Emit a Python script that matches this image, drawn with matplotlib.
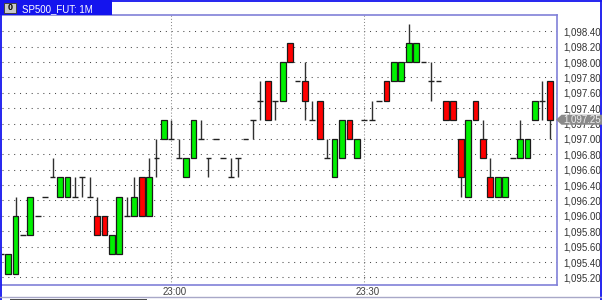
import matplotlib
matplotlib.use("Agg")
import matplotlib.pyplot as plt
import matplotlib.transforms as mtransforms
from matplotlib.patches import Rectangle, Polygon
import numpy as np

plt.rcParams["font.family"] = ["Liberation Sans", "DejaVu Sans"]

W, H = 602, 300
TITLE = "SP500_FUT: 1M"

# one-minute bars, left to right (first one is cut by the left edge)
OPENS = [1095.50, 1095.25, 1095.25, 1095.75, 1095.75, 1096.00, 1096.25, 1096.50,
         1096.25, 1096.25, 1096.25, 1096.50, 1096.25, 1096.00, 1096.00, 1095.50,
         1095.50, 1096.00, 1096.00, 1096.50, 1096.00, 1096.75, 1097.00, 1097.00,
         1096.75, 1096.50, 1096.75, 1097.00, 1096.75, 1097.00, 1096.75, 1096.50,
         1096.75, 1097.00, 1097.25, 1097.50, 1097.75, 1097.50, 1097.50, 1098.25,
         1097.75, 1097.75, 1097.25, 1097.50, 1096.75, 1096.50, 1096.75, 1097.25,
         1096.75, 1097.25, 1097.25, 1097.50, 1097.75, 1097.75, 1097.75, 1098.00,
         1098.00, 1098.00, 1097.75, 1097.75, 1097.50, 1097.50, 1097.00, 1096.25,
         1097.50, 1097.00, 1096.50, 1096.25, 1096.25, 1096.75, 1096.75, 1096.75,
         1097.25, 1097.50, 1097.75]
HIGHS = [1095.50, 1095.50, 1096.25, 1095.75, 1096.25, 1096.00, 1096.25, 1096.75,
         1096.50, 1096.50, 1096.50, 1096.50, 1096.50, 1096.25, 1096.00, 1095.75,
         1096.25, 1096.25, 1096.50, 1096.50, 1096.75, 1097.00, 1097.25, 1097.25,
         1097.00, 1096.75, 1097.25, 1097.25, 1096.75, 1097.00, 1096.75, 1096.75,
         1096.75, 1097.00, 1097.25, 1097.75, 1097.75, 1097.50, 1098.00, 1098.25,
         1097.75, 1098.00, 1097.50, 1097.50, 1097.00, 1097.00, 1097.25, 1097.25,
         1097.00, 1097.25, 1097.50, 1097.50, 1097.75, 1098.00, 1098.00, 1098.50,
         1098.25, 1098.00, 1098.00, 1097.75, 1097.50, 1097.50, 1097.00, 1097.25,
         1097.50, 1097.25, 1096.75, 1096.50, 1096.50, 1096.75, 1097.25, 1097.00,
         1097.50, 1097.75, 1097.75]
LOWS = [1095.50, 1095.25, 1095.25, 1095.75, 1095.75, 1096.00, 1096.25, 1096.50,
        1096.25, 1096.25, 1096.25, 1096.25, 1096.25, 1095.75, 1095.75, 1095.50,
        1095.50, 1096.00, 1096.00, 1096.00, 1096.00, 1096.50, 1097.00, 1097.00,
        1096.75, 1096.50, 1096.75, 1097.00, 1096.50, 1097.00, 1096.75, 1096.50,
        1096.50, 1097.00, 1097.00, 1097.25, 1097.25, 1097.25, 1097.50, 1098.00,
        1097.75, 1097.25, 1097.25, 1097.00, 1096.75, 1096.50, 1096.75, 1097.00,
        1096.75, 1097.25, 1097.25, 1097.50, 1097.50, 1097.75, 1097.75, 1098.00,
        1098.00, 1098.00, 1097.50, 1097.75, 1097.25, 1097.25, 1096.25, 1096.25,
        1097.25, 1096.75, 1096.25, 1096.25, 1096.25, 1096.75, 1096.75, 1096.75,
        1097.25, 1097.25, 1097.00]
CLOSES = [1095.50, 1095.50, 1096.00, 1095.75, 1096.25, 1096.00, 1096.25, 1096.50,
          1096.50, 1096.50, 1096.25, 1096.50, 1096.25, 1095.75, 1095.75, 1095.75,
          1096.25, 1096.00, 1096.25, 1096.00, 1096.50, 1096.75, 1097.25, 1097.00,
          1096.75, 1096.75, 1097.25, 1097.00, 1096.75, 1097.00, 1096.75, 1096.50,
          1096.75, 1097.00, 1097.25, 1097.50, 1097.25, 1097.50, 1098.00, 1098.00,
          1097.75, 1097.50, 1097.25, 1097.00, 1096.75, 1097.00, 1097.25, 1097.00,
          1097.00, 1097.25, 1097.25, 1097.50, 1097.50, 1098.00, 1098.00, 1098.25,
          1098.25, 1098.00, 1097.75, 1097.75, 1097.25, 1097.25, 1096.50, 1097.25,
          1097.25, 1096.75, 1096.25, 1096.50, 1096.50, 1096.75, 1097.00, 1097.00,
          1097.50, 1097.50, 1097.25]

TIME_TICKS = [23, 49]
TIME_LABELS = ["23:00", "23:30"]
PRICE_TICKS = [1095.20, 1095.40, 1095.60, 1095.80, 1096.00, 1096.20, 1096.40,
               1096.60, 1096.80, 1097.00, 1097.20, 1097.40, 1097.60, 1097.80,
               1098.00, 1098.20, 1098.40]
LAST = 1097.25

GREEN = "#00f000"
RED = "#ff0000"
EDGE = "#1a1a1a"
WICK = "#303030"
FRAME = "#8080d8"
BLUE = "#1414ee"
BODY_W = 0.78

fig = plt.figure(figsize=(W / 100, H / 100), dpi=100)
fig.patch.set_facecolor("white")
# plot area: x 2..557 px, y 15..285 px from the top
ax = fig.add_axes([2 / W, (H - 285) / H, 555 / W, 270 / H])

x = np.arange(len(OPENS))
o, h, l, c = (np.array(v) for v in (OPENS, HIGHS, LOWS, CLOSES))
up, down, flat = c > o, c < o, c == o

ax.vlines(x, l, h, color=WICK, lw=1.0, zorder=2)
ax.bar(x[up], (c - o)[up], bottom=o[up], width=BODY_W, color=GREEN,
       edgecolor=EDGE, linewidth=0.9, zorder=3)
ax.bar(x[down], (o - c)[down], bottom=c[down], width=BODY_W, color=RED,
       edgecolor=EDGE, linewidth=0.9, zorder=3)
ax.hlines(c[flat], x[flat] - BODY_W / 2, x[flat] + BODY_W / 2, color="#202020",
          lw=1.0, zorder=3)

ax.set_xlim(0.18, 74.98)
ax.set_ylim(1095.101, 1098.612)

# dotted grid
for p in PRICE_TICKS:
    ax.axhline(p, color="#4a4a4a", lw=0.75, ls=(0, (1, 4.6)), zorder=1)
for t in TIME_TICKS:
    ax.axvline(t, color="#8a8a8a", lw=0.75, ls=(0, (1, 2)), zorder=1)

ax.yaxis.tick_right()
ax.set_yticks(PRICE_TICKS)
ax.set_yticklabels([f"{p:,.2f}" for p in PRICE_TICKS], fontsize=7, color="#333333")
ax.tick_params(axis="y", length=0, pad=4.3)
ax.set_xticks(TIME_TICKS)
ax.set_xticklabels(TIME_LABELS, fontsize=7, color="#404040")
ax.tick_params(axis="x", length=0, pad=1.5)
shift = mtransforms.ScaledTranslation(3.7 / 100, 0, fig.dpi_scale_trans)
for lbl in ax.get_xticklabels():
    lbl.set_transform(lbl.get_transform() + shift)

ax.spines["left"].set_visible(False)
for s in ("top", "right", "bottom"):
    ax.spines[s].set_color(FRAME)
    ax.spines[s].set_linewidth(1.2)


def fx(px):
    return px / W


def fy(py):
    return 1 - py / H


# window chrome
fig.patches.append(Rectangle((0, fy(14.5)), fx(112), 14.5 / H, transform=fig.transFigure,
                             facecolor=BLUE, edgecolor="none", zorder=1))
fig.patches.append(Rectangle((fx(3.5), fy(13)), 12.5 / W, 10 / H, transform=fig.transFigure,
                             facecolor="#c8c8c8", edgecolor="#404040", lw=0.7, zorder=2))
fig.text(fx(9.8), fy(8), "0", fontsize=6.5, color="black", ha="center", va="center",
         fontweight="bold")
fig.text(fx(22), fy(9.3), TITLE, fontsize=7, color="white", ha="left", va="center")
fig.add_artist(plt.Line2D([0, 1], [fy(0.8), fy(0.8)], transform=fig.transFigure,
                          color=BLUE, lw=1.3))
fig.add_artist(plt.Line2D([fx(0.8), fx(0.8)], [0, 1], transform=fig.transFigure,
                          color=BLUE, lw=1.3))
fig.add_artist(plt.Line2D([fx(601), fx(601)], [0, 1], transform=fig.transFigure,
                          color=BLUE, lw=1.3))
fig.add_artist(plt.Line2D([0, 1], [fy(297), fy(297)], transform=fig.transFigure,
                          color="#a8a8c8", lw=1.0))
fig.patches.append(Rectangle((fx(10), 0), 137 / W, 1.5 / H, transform=fig.transFigure,
                             facecolor="#505050", edgecolor="none", zorder=1))

# last price marker (covers part of the 1,097.20 label, as in the source)
ly = H - ax.transData.transform((0, LAST))[1]
marker = Polygon([(fx(556), fy(ly)), (fx(561.5), fy(ly - 5)), (fx(602), fy(ly - 5)),
                  (fx(602), fy(ly + 5)), (fx(561.5), fy(ly + 5))],
                 closed=True, transform=fig.transFigure, facecolor="#8a8a8a",
                 edgecolor="none", zorder=3)
fig.patches.append(marker)
fig.text(fx(563), fy(ly), f"{LAST:,.2f}", fontsize=7, color="#eeeeee",
         ha="left", va="center", zorder=4)

fig.savefig("out.png", dpi=100)
